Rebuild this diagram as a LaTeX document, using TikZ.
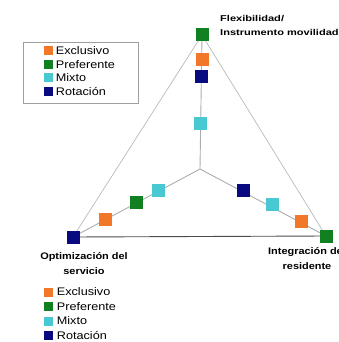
\documentclass[tikz,border=0pt]{standalone}
\usepackage{fontspec}
\setmainfont{Liberation Sans}[FakeStretch=1.15]
\newfontfamily\widefont{Liberation Sans}[FakeStretch=1.3]
\usepackage{tikz}
\usetikzlibrary{positioning, backgrounds}
\definecolor{exclusivo}{RGB}{240, 120, 40}
\definecolor{preferente}{RGB}{16, 128, 32}
\definecolor{mixto}{RGB}{72, 200, 208}
\definecolor{rotacion}{RGB}{10, 10, 128}

\begin{document}
\begin{tikzpicture}[
    x=1pt, y=-1pt,
    sq/.style={rectangle, minimum size=13pt, inner sep=0pt},
    key/.style={rectangle, minimum size=9pt, inner sep=0pt},
    keytext/.style={anchor=west, inner sep=0pt, font=\fontsize{11}{11}\selectfont},
    axislabel/.style={align=center, inner sep=0pt, font=\bfseries\fontsize{9.5}{15}\selectfont},
    edge/.style={gray!55, line width=0.7pt},
    spoke/.style={gray!65, line width=0.9pt},
    base/.style={black!70, line width=0.9pt}
  ]
  \useasboundingbox (0,0) rectangle (338,342);

  % vertices and centre
  \coordinate (c) at (200,169);
  \node[sq, fill=preferente] (flex) at (202,35) {};
  \node[sq, fill=rotacion] (opt) at (73,237) {};
  \node[sq, fill=preferente] (integ) at (326,236) {};

  % points on the spokes
  \node[sq, fill=exclusivo] (f1) at (202,60) {};
  \node[sq, fill=rotacion] (f2) at (201,77) {};
  \node[sq, fill=mixto] (f3) at (200,123) {};
  \node[sq, fill=exclusivo] (o1) at (105,219) {};
  \node[sq, fill=preferente] (o2) at (136,202) {};
  \node[sq, fill=mixto] (o3) at (158,190) {};
  \node[sq, fill=rotacion] (i1) at (243,190) {};
  \node[sq, fill=mixto] (i2) at (272,204) {};
  \node[sq, fill=exclusivo] (i3) at (301,221) {};

  \begin{scope}[on background layer]
    \draw[edge] (flex.center) -- (opt.center);
    \draw[edge] (flex.center) -- (integ.center);
    \draw[base] (opt.center) -- (integ.center);
    \foreach \v in {flex, opt, integ} {
      \draw[spoke] (c) -- (\v.center);
    }
  \end{scope}

  % axis labels
  \node[axislabel, align=left, anchor=west, font=\widefont\bfseries\fontsize{8.5}{14}\selectfont] (lflex) at (220,25) {Flexibilidad/\\Instrumento movilidad};
  \node[axislabel] (lopt) at (84,264) {Optimización del\\servicio};
  \node[axislabel] (linteg) at (307,259) {Integración del\\residente};

  % legend with frame
  \node[draw=gray!75, line width=0.8pt, minimum width=115pt, minimum height=61pt] (legbox) at (81,72.5) {};
  \foreach \n/\t [count=\i] in {exclusivo/Exclusivo, preferente/Preferente, mixto/Mixto, rotacion/Rotación} {
    \node[key, fill=\n] (ka\i) at (48,37.5+13.5*\i) {};
    \node[keytext, right=3pt of ka\i] (ta\i) {\t};
  }

  % legend without frame
  \foreach \n/\t [count=\i] in {exclusivo/Exclusivo, preferente/Preferente, mixto/Mixto, rotacion/Rotación} {
    \node[key, fill=\n] (kb\i) at (48,277.5+14.5*\i) {};
    \node[keytext, right=4pt of kb\i] (tb\i) {\t};
  }
\end{tikzpicture}
\end{document}
